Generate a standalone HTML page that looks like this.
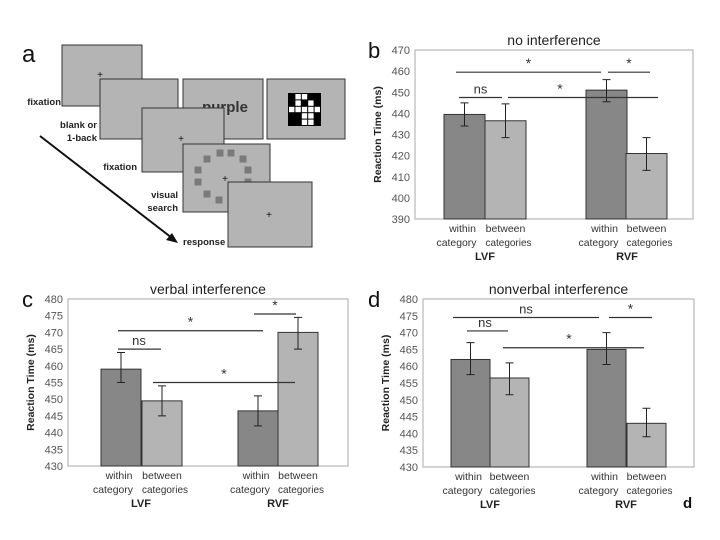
<!DOCTYPE html>
<html><head><meta charset="utf-8"><style>
body{margin:0;background:#fff;}
svg{display:block;font-family:"Liberation Sans",sans-serif;}
</style></head><body>
<svg id="fig" width="720" height="540" viewBox="0 0 720 540">
<g id="panelA">
  <text x="22" y="62" font-size="24" fill="#111">a</text>
  <rect x="62" y="45" width="80" height="61" fill="#b4b4b4" stroke="#333"/>
  <text x="100" y="78" font-size="10" text-anchor="middle" fill="#111">+</text>
  <rect x="100" y="79" width="78" height="60" fill="#b4b4b4" stroke="#333"/>
  <rect x="183" y="79" width="80" height="60" fill="#b4b4b4" stroke="#333"/>
  <text x="225" y="112" font-size="15" font-weight="bold" text-anchor="middle" fill="#333">purple</text>
  <rect x="267" y="79" width="78" height="60" fill="#b4b4b4" stroke="#333"/>
  <g id="mask"></g>
  <rect x="142" y="108" width="82" height="64" fill="#b4b4b4" stroke="#333"/>
  <text x="181" y="142" font-size="10" text-anchor="middle" fill="#111">+</text>
  <rect x="183" y="144" width="87" height="68" fill="#b4b4b4" stroke="#333"/>
  <g id="searchSq"></g>
  <text x="225" y="182" font-size="10" text-anchor="middle" fill="#111">+</text>
  <rect x="228" y="182" width="84" height="65" fill="#b4b4b4" stroke="#333"/>
  <text x="269" y="218" font-size="10" text-anchor="middle" fill="#111">+</text>
  <g font-size="9.5" font-weight="bold" fill="#222" text-anchor="end">
    <text x="61" y="105">fixation</text>
    <text x="97" y="128">blank or</text>
    <text x="97" y="141">1-back</text>
    <text x="137" y="170">fixation</text>
    <text x="178" y="198">visual</text>
    <text x="178" y="211">search</text>
    <text x="183" y="245" text-anchor="start">response</text>
  </g>
  <line x1="40" y1="136" x2="172" y2="238" stroke="#111" stroke-width="2"/>
  <polygon points="178,243 166,240 172,233" fill="#111"/>
</g>
<g id="panels"></g>
<text x="683" y="508" font-size="15" font-weight="bold" fill="#111">d</text>
</svg>
<script>
// Panel b: no interference
const catLabels1 = ["within", "between", "within", "between"];
const catLabels2 = ["category", "categories", "category", "categories"];
const groupLabels = ["LVF", "RVF"];
const bValues = [439.5, 436.5, 451, 421];
const bErrLow = [434, 428.5, 445.5, 413];
const bErrHigh = [445, 444.5, 456, 428.5];
const bTicks = [390, 400, 410, 420, 430, 440, 450, 460, 470];
// Panel c: verbal interference
const cValues = [459, 449.5, 446.5, 470];
const cErrLow = [455, 445, 442, 465];
const cErrHigh = [464, 454, 451, 474.5];
const cTicks = [430, 435, 440, 445, 450, 455, 460, 465, 470, 475, 480];
// Panel d: nonverbal interference
const dValues = [462, 456.5, 465, 443];
const dErrLow = [457.5, 451.5, 460.5, 439];
const dErrHigh = [467, 461, 470, 447.5];
const dTicks = [430, 435, 440, 445, 450, 455, 460, 465, 470, 475, 480];

const NS = "http://www.w3.org/2000/svg";
function mk(tag, attrs, parent, txt) {
  const e = document.createElementNS(NS, tag);
  for (const k in attrs) e.setAttribute(k, attrs[k]);
  if (txt !== undefined) e.textContent = txt;
  parent.appendChild(e);
  return e;
}
const maskG = document.getElementById('mask');
mk('rect', {x:288, y:93, width:33, height:33, fill:'#000'}, maskG);
const maskPat = [[0,1,1,0,0],[0,1,0,1,0],[1,1,1,1,1],[0,0,1,1,0],[0,0,1,1,0]];
maskPat.forEach((r, i) => r.forEach((v, j) => {
  if (v) mk('rect', {x:289 + j*6.4, y:94 + i*6.4, width:5.4, height:5.4, fill:'#fff'}, maskG);
}));
const sq = document.getElementById('searchSq');
[[220,153],[231,153],[243,159],[207,159],[198,170],[198,182],[207,194],[219,200],[248,170],[248,182]].forEach(p => {
  mk('rect', {x:p[0]-3.5, y:p[1]-3.5, width:7, height:7, fill:'#7a7a7a'}, sq);
});

const root = document.getElementById('panels');
function drawPanel(cfg) {
  const g = mk('g', {}, root);
  
  
  const ymin = cfg.ticks[0], ymax = cfg.ticks[cfg.ticks.length - 1];
  const yS = v => cfg.bottom - (v - ymin) / (ymax - ymin) * (cfg.bottom - cfg.top);
  const frame = mk('rect', {x:cfg.left, y:cfg.top, width:cfg.right - cfg.left, height:cfg.bottom - cfg.top, fill:'#fff', stroke:'#aaa', 'stroke-width':1}, g);
  
  
  const lt = mk('text', {x:cfg.letterX, y:cfg.top + 8, 'font-size':22, fill:'#111'}, g, cfg.letter);
  
  
  const tt = mk('text', {x:(cfg.left + cfg.right) / 2, y:cfg.top - 5, 'font-size':14, 'text-anchor':'middle', fill:'#222'}, g, cfg.title);
  
  
  cfg.ticks.forEach(t => {
    const e = mk('text', {x:cfg.left - 5, y:yS(t) + 4, 'font-size':11, 'text-anchor':'end', fill:'#555'}, g, t);
    
    
  });
  const yt = mk('text', {x:0, y:0, 'font-size':10.5, 'font-weight':'bold', 'text-anchor':'middle', fill:'#222', transform:`translate(${cfg.left - 34},${(cfg.top + cfg.bottom) / 2}) rotate(-90)`}, g, 'Reaction Time (ms)');
  
  
  const colors = ['#878787', '#b4b4b4', '#878787', '#b4b4b4'];
  cfg.values.forEach((v, i) => {
    const x0 = cfg.barX[i];
    const b = mk('rect', {x:x0, y:yS(v), width:cfg.barW, height:cfg.bottom - yS(v), fill:colors[i], stroke:'#333', 'stroke-width':1}, g);
    
    
    const cx = x0 + cfg.barW / 2;
    const eb = mk('path', {d:`M${cx},${yS(cfg.lo[i])}V${yS(cfg.hi[i])}M${cx-4},${yS(cfg.lo[i])}H${cx+4}M${cx-4},${yS(cfg.hi[i])}H${cx+4}`, stroke:'#222', 'stroke-width':1, fill:'none'}, g);
    
    
    const isWithin = (i % 2 === 0);
    const l1 = mk('text', {x:cx + (isWithin ? -2 : 0), y:cfg.bottom + 13, 'font-size':10.5, 'text-anchor':'middle', fill:'#333'}, g, catLabels1[i]);
    
    
    const l2 = mk('text', {x:cx + (isWithin ? -8 : 3), y:cfg.bottom + 27, 'font-size':10.5, 'text-anchor':'middle', fill:'#333', textLength:(isWithin ? 40 : 46), lengthAdjust:'spacingAndGlyphs'}, g, catLabels2[i]);
    
    
  });
  groupLabels.forEach((gl, k) => {
    const cx = cfg.barX[2*k] + cfg.barW;
    const e = mk('text', {x:cx, y:cfg.bottom + 41, 'font-size':11, 'font-weight':'bold', 'text-anchor':'middle', fill:'#222'}, g, gl);
    
    
  });
  cfg.sig.forEach(s => {
    const y = yS(s[0]);
    const ln = mk('line', {x1:s[1], x2:s[2], y1:y, y2:y, stroke:'#333', 'stroke-width':1.2}, g);
    
    
    const st = mk('text', {x:s[4] !== undefined ? s[4] : (s[1] + s[2]) / 2, y:y - 4, 'font-size':s[3] === '*' ? 14 : 13, 'text-anchor':'middle', fill:'#333'}, g, s[3]);
    
    
  });
}
drawPanel({name:'panel-b-no-interference', letter:'b', letterX:368, title:'no interference', left:415, right:693, top:50, bottom:219,
  ticks:bTicks, values:bValues, lo:bErrLow, hi:bErrHigh, barX:[444, 485, 586, 626], barW:41,
  sig:[[459.5, 456, 601, '*'], [459.5, 608, 650, '*'], [447.5, 459, 502, 'ns'], [447.5, 508, 658, '*', 560]]});
drawPanel({name:'panel-c-verbal-interference', letter:'c', letterX:22, title:'verbal interference', left:68, right:348, top:299, bottom:466,
  ticks:cTicks, values:cValues, lo:cErrLow, hi:cErrHigh, barX:[101, 142, 238, 278], barW:40,
  sig:[[470.5, 118, 263, '*'], [475.5, 254, 296, '*'], [465, 118, 161, 'ns', 139], [455, 153, 295, '*', 224]]});
drawPanel({name:'panel-d-nonverbal-interference', letter:'d', letterX:368, title:'nonverbal interference', left:423, right:694, top:299, bottom:467,
  ticks:dTicks, values:dValues, lo:dErrLow, hi:dErrHigh, barX:[451, 490, 587, 627], barW:39,
  sig:[[474.5, 453, 599, 'ns', 526], [474.5, 609, 652, '*'], [470.5, 467, 508, 'ns', 485], [465.5, 503, 644, '*', 569]]});
</script>
</body></html>
